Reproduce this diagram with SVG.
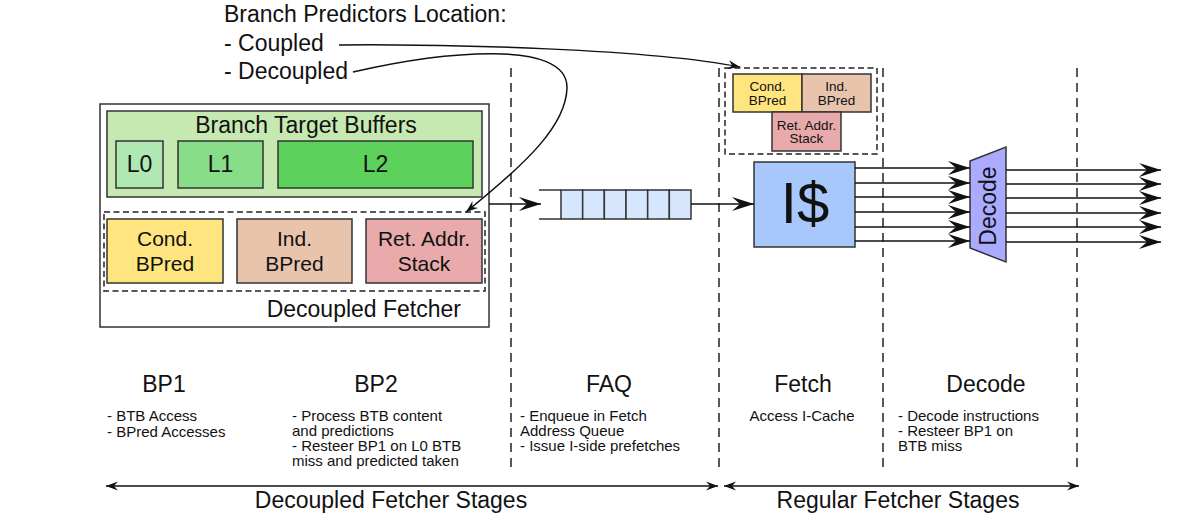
<svg xmlns="http://www.w3.org/2000/svg" width="1200" height="523" viewBox="0 0 1200 523">
<style>
text{font-family:"Liberation Sans",Arial,sans-serif;fill:#111}
.big{font-size:23px}
.mid{font-size:21px}
.sm{font-size:15px}
.xs{font-size:13.5px}
.box{stroke:#333;stroke-width:1.5}
.dash{fill:none;stroke:#222;stroke-width:1.5;stroke-dasharray:6,3.5}
.vdash{fill:none;stroke:#222;stroke-width:1.5;stroke-dasharray:9,6}
.ln{fill:none;stroke:#111;stroke-width:1.5}
.c{text-anchor:middle}
</style>
<defs>
<marker id="ah" viewBox="-23 -8 24 16" refX="0" refY="0" markerWidth="24" markerHeight="16" orient="auto" markerUnits="userSpaceOnUse">
<path d="M0,0 L-22,-7 L-14,0 L-22,7 Z" fill="#111"/>
</marker>
<marker id="as" viewBox="-13 -5 14 10" refX="0" refY="0" markerWidth="14" markerHeight="10" orient="auto-start-reverse" markerUnits="userSpaceOnUse">
<path d="M0,0 L-12,-4.5 L-8,0 L-12,4.5 Z" fill="#111"/>
</marker>
</defs>
<rect width="1200" height="523" fill="#fff"/>

<g id="stage-lines">
<line class="vdash" x1="511" y1="68" x2="511" y2="472"/>
<line class="vdash" x1="719" y1="68" x2="719" y2="472"/>
<line class="vdash" x1="883" y1="68" x2="883" y2="472"/>
<line class="vdash" x1="1077" y1="68" x2="1077" y2="472"/>
</g>

<g id="legend">
<text class="big" x="224" y="22">Branch Predictors Location:</text>
<text class="big" x="224" y="51">- Coupled</text>
<text class="big" x="224" y="79">- Decoupled</text>
</g>

<g id="decoupled-fetcher">
<rect class="box" x="100" y="104" width="389" height="223" fill="#fff"/>
<text class="big" x="461" y="317" text-anchor="end">Decoupled Fetcher</text>
</g>

<g id="btb">
<rect class="box" x="107" y="111" width="375" height="86" fill="#c6e9b2"/>
<text class="big c" x="306" y="133">Branch Target Buffers</text>
</g>
<g id="l0"><rect class="box" x="116" y="141" width="47" height="47" fill="#b0e8b4"/><text class="big c" x="139.5" y="172">L0</text></g>
<g id="l1"><rect class="box" x="178" y="141" width="85" height="47" fill="#88dd88"/><text class="big c" x="220.5" y="172">L1</text></g>
<g id="l2"><rect class="box" x="278" y="141" width="195" height="47" fill="#5cd15c"/><text class="big c" x="375.5" y="172">L2</text></g>

<g id="decoupled-preds">
<rect class="dash" x="104" y="212" width="381" height="79"/>
</g>
<g id="cond-bpred"><rect class="box" x="107" y="219" width="116" height="64" fill="#ffe57f"/><text class="mid c" x="165" y="246">Cond.</text><text class="mid c" x="165" y="271">BPred</text></g>
<g id="ind-bpred"><rect class="box" x="237" y="219" width="115" height="64" fill="#e8c4ad"/><text class="mid c" x="294.5" y="246">Ind.</text><text class="mid c" x="294.5" y="271">BPred</text></g>
<g id="ras"><rect class="box" x="366" y="219" width="116" height="64" fill="#e8aaaa"/><text class="mid c" x="424" y="246">Ret. Addr.</text><text class="mid c" x="424" y="271">Stack</text></g>

<g id="coupled-preds">
<rect class="dash" x="725" y="68" width="152" height="86"/>
</g>
<g id="cond-bpred-small"><rect class="box" x="733" y="74" width="69" height="38" fill="#ffe57f"/><text class="xs c" x="767.5" y="91">Cond.</text><text class="xs c" x="767.5" y="105">BPred</text></g>
<g id="ind-bpred-small"><rect class="box" x="802" y="74" width="69" height="38" fill="#e8c4ad"/><text class="xs c" x="836.5" y="91">Ind.</text><text class="xs c" x="836.5" y="105">BPred</text></g>
<g id="ras-small"><rect class="box" x="772" y="112" width="69" height="39" fill="#e8aaaa"/><text class="xs c" x="806.5" y="130">Ret. Addr.</text><text class="xs c" x="806.5" y="143">Stack</text></g>

<g id="faq">
<line class="box" x1="539" y1="190" x2="561" y2="190"/>
<line class="box" x1="539" y1="219" x2="561" y2="219"/>
<rect class="box" x="561" y="190" width="21.67" height="29" fill="#d6e6fc"/>
<rect class="box" x="582.67" y="190" width="21.67" height="29" fill="#d6e6fc"/>
<rect class="box" x="604.33" y="190" width="21.67" height="29" fill="#d6e6fc"/>
<rect class="box" x="626" y="190" width="21.67" height="29" fill="#d6e6fc"/>
<rect class="box" x="647.67" y="190" width="21.67" height="29" fill="#d6e6fc"/>
<rect class="box" x="669.33" y="190" width="21.67" height="29" fill="#d6e6fc"/>
</g>

<g id="icache">
<rect class="box" x="754" y="162" width="101" height="85" fill="#a8c8fb"/>
<text class="c" x="805" y="223" font-size="58">I$</text>
</g>

<g id="decode">
<polygon class="box" points="970,161 1006,147 1006,262 970,248" fill="#aaaaff"/>
<text class="big c" transform="translate(996,206) rotate(-90)">Decode</text>
</g>

<g id="connectors">
<path class="ln" d="M339,45 C450,44 650,49 740,67" marker-end="url(#as)"/>
<path class="ln" d="M353,72 C440,52 568,38 567,88 C566,125 528,162 466,212" marker-end="url(#as)"/>
<line class="ln" x1="489" y1="204" x2="541" y2="204" marker-end="url(#ah)"/>
<line class="ln" x1="691" y1="204" x2="754" y2="204" marker-end="url(#ah)"/>
<line class="ln" x1="855" y1="168" x2="970" y2="168" marker-end="url(#ah)"/>
<line class="ln" x1="855" y1="183" x2="970" y2="183" marker-end="url(#ah)"/>
<line class="ln" x1="855" y1="197" x2="970" y2="197" marker-end="url(#ah)"/>
<line class="ln" x1="855" y1="212" x2="970" y2="212" marker-end="url(#ah)"/>
<line class="ln" x1="855" y1="227" x2="970" y2="227" marker-end="url(#ah)"/>
<line class="ln" x1="855" y1="241" x2="970" y2="241" marker-end="url(#ah)"/>
<line class="ln" x1="1006" y1="170" x2="1161" y2="170" marker-end="url(#ah)"/>
<line class="ln" x1="1006" y1="184" x2="1161" y2="184" marker-end="url(#ah)"/>
<line class="ln" x1="1006" y1="198" x2="1161" y2="198" marker-end="url(#ah)"/>
<line class="ln" x1="1006" y1="213" x2="1161" y2="213" marker-end="url(#ah)"/>
<line class="ln" x1="1006" y1="227" x2="1161" y2="227" marker-end="url(#ah)"/>
<line class="ln" x1="1006" y1="242" x2="1161" y2="242" marker-end="url(#ah)"/>
<line class="ln" x1="106" y1="486" x2="718" y2="486" marker-start="url(#as)" marker-end="url(#as)"/>
<line class="ln" x1="724" y1="486" x2="1079" y2="486" marker-start="url(#as)" marker-end="url(#as)"/>
</g>

<g id="stage-labels">
<text class="big c" x="164" y="392">BP1</text>
<text class="sm" x="107" y="421">- BTB Access</text>
<text class="sm" x="107" y="437">- BPred Accesses</text>
<text class="big c" x="376" y="392">BP2</text>
<text class="sm" x="292" y="421">- Process BTB content</text>
<text class="sm" x="292" y="436">and predictions</text>
<text class="sm" x="292" y="451">- Resteer BP1 on L0 BTB</text>
<text class="sm" x="292" y="466">miss and predicted taken</text>
<text class="big c" x="609" y="392">FAQ</text>
<text class="sm" x="520" y="421">- Enqueue in Fetch</text>
<text class="sm" x="520" y="436">Address Queue</text>
<text class="sm" x="520" y="451">- Issue I-side prefetches</text>
<text class="big c" x="803" y="392">Fetch</text>
<text class="sm c" x="802" y="421">Access I-Cache</text>
<text class="big c" x="986" y="392">Decode</text>
<text class="sm" x="898" y="421">- Decode instructions</text>
<text class="sm" x="898" y="436">- Resteer BP1 on</text>
<text class="sm" x="898" y="451">BTB miss</text>
<text class="big c" x="391" y="508">Decoupled Fetcher Stages</text>
<text class="big c" x="898" y="508">Regular Fetcher Stages</text>
</g>
</svg>
